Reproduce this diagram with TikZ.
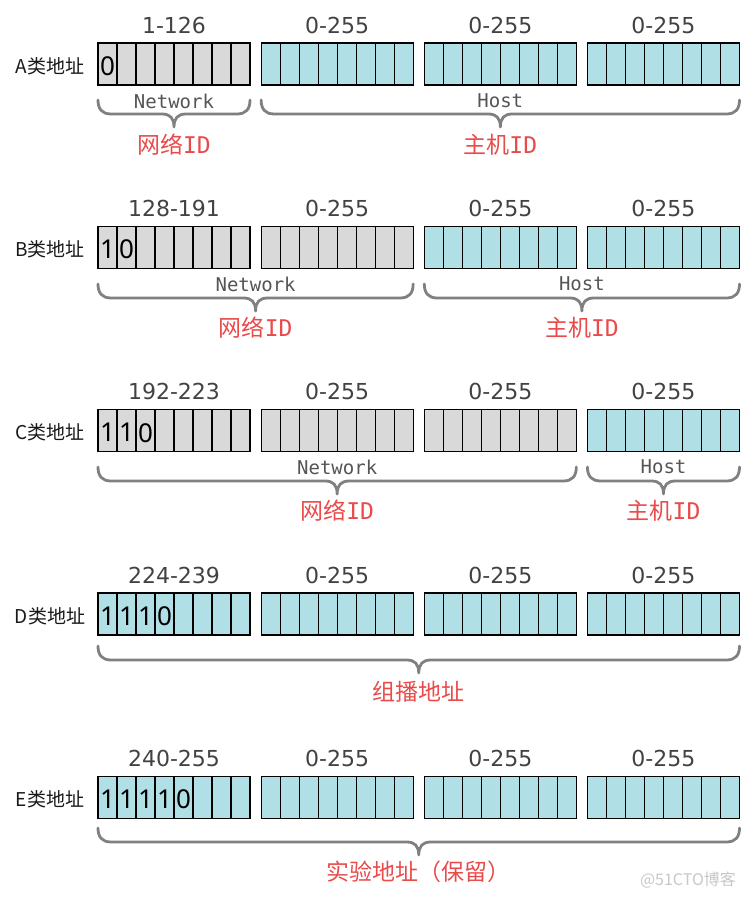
\documentclass[tikz,border=0pt]{standalone}
\usepackage{fontspec}
\setmainfont{DejaVu Sans}
\newfontfamily\cjk{Noto Sans CJK SC}
\newfontfamily\monof{DejaVu Sans Mono}
\newfontfamily\bitf{Noto Sans}
\usetikzlibrary{calc}
\definecolor{cellgray}{HTML}{D9D9D9}
\definecolor{cellcyan}{HTML}{B0E0E6}
\definecolor{bracegray}{HTML}{808080}
\definecolor{textgray}{HTML}{555555}
\definecolor{rangegray}{HTML}{424242}
\definecolor{labred}{HTML}{E94B4B}
\definecolor{wmgray}{HTML}{C8C8C8}
\newcommand\ipbrace[3]{%
  \pgfmathsetmacro\xm{(#1+#2)/2}%
  \draw[bracestyle] (#1,#3) .. controls (#1,#3+9) and (#1+4,#3+14) .. (#1+13,#3+14)
    -- (\xm-12,#3+14) .. controls (\xm-4,#3+14) and (\xm,#3+18) .. (\xm,#3+27)
    .. controls (\xm,#3+18) and (\xm+4,#3+14) .. (\xm+12,#3+14)
    -- (#2-13,#3+14) .. controls (#2-4,#3+14) and (#2,#3+9) .. (#2,#3);}
\tikzset{
  octet/.style={rectangle, draw=black, line width=1.2pt, minimum width=152pt,
    minimum height=42pt, inner sep=0pt, outer sep=0pt, anchor=north west},
  divider/.style={draw=black, line width=1.2pt},
  rangelab/.style={inner sep=0pt, text=rangegray, font=\fontsize{22}{26}\selectfont},
  bitlab/.style={inner sep=0pt, text=black, font=\bitf\fontsize{26}{30}\selectfont},
  rowlab/.style={inner sep=0pt, text=black!90, font=\cjk\fontsize{19}{22}\selectfont},
  partlab/.style={inner sep=0pt, text=textgray, font=\monof\fontsize{19}{22}\selectfont},
  redlab/.style={inner sep=0pt, text=labred, font=\cjk\fontsize{23}{26}\selectfont},
  bracestyle/.style={draw=bracegray, line width=2.8pt, line cap=round, line join=round},
  wmlab/.style={inner sep=0pt, text=wmgray, font=\cjk\fontsize{16}{18}\selectfont}
}
\begin{document}
\begin{tikzpicture}[x=1pt,y=-1pt]
\useasboundingbox (0,0) rectangle (750,900);
\fill[white] (0,0) rectangle (750,900);
\foreach \r/\yt/\nnet/\rng/\bits in {A/43/1/1-126/{0}, B/226.3/2/128-191/{1,0}, C/409.7/3/192-223/{1,1,0}, D/593/0/224-239/{1,1,1,0}, E/776.3/0/240-255/{1,1,1,1,0}}{
  \foreach \k in {1,2,3,4}{
    \ifnum\k>\nnet\def\fc{cellcyan}\else\def\fc{cellgray}\fi
    \node[octet, fill=\fc] (\r\k) at ({98+(\k-1)*163.15},\yt) {};
    \foreach \i in {1,...,7}{
      \draw[divider] ($(\r\k.north west)+(\i*19,0)$) -- ($(\r\k.south west)+(\i*19,0)$);
    }
    \ifnum\k=1
      \node[rangelab] (\r\k r) at ($(\r\k.north)+(0,-18)$) {\rng};
    \else
      \node[rangelab] (\r\k r) at ($(\r\k.north)+(0,-18)$) {0-255};
    \fi
  }
  \foreach \b [count=\j] in \bits{
    \node[bitlab] (\r b\j) at ($(\r1.west)+(\j*19-9.5,2)$) {\b};
  }
  \node[rowlab] (\r lab) at ($(\r1.west)+(-48,2)$) {\r 类地址};
}
% Class A
\ipbrace{98}{250}{100}
\node[partlab] (Anet) at (174,101) {Network};
\node[redlab] (Anid) at (174,145) {网络{\monof ID}};
\ipbrace{261.15}{739.5}{100}
\node[partlab] (Ahost) at (500.3,101) {Host};
\node[redlab] (Ahid) at (500.3,145) {主机{\monof ID}};
% Class B
\ipbrace{98}{413.15}{284}
\node[partlab] (Bnet) at (255.6,284) {Network};
\node[redlab] (Bnid) at (255.6,328) {网络{\monof ID}};
\ipbrace{424.3}{739.5}{284}
\node[partlab] (Bhost) at (581.9,284) {Host};
\node[redlab] (Bhid) at (581.9,328) {主机{\monof ID}};
% Class C
\ipbrace{98}{576.3}{467}
\node[partlab] (Cnet) at (337.2,467) {Network};
\node[redlab] (Cnid) at (337.2,511) {网络{\monof ID}};
\ipbrace{587.45}{739.5}{467}
\node[partlab] (Chost) at (663.5,467) {Host};
\node[redlab] (Chid) at (663.5,511) {主机{\monof ID}};
% Class D
\ipbrace{98}{739.5}{646}
\node[redlab] (Dlab) at (418.8,692) {组播地址};
% Class E
\ipbrace{98}{739.5}{828}
\node[redlab] (Elab) at (418.8,872) {实验地址（保留）};
% watermark
\node[wmlab] (wm) at (688,880) {@51CTO博客};
\end{tikzpicture}
\end{document}
